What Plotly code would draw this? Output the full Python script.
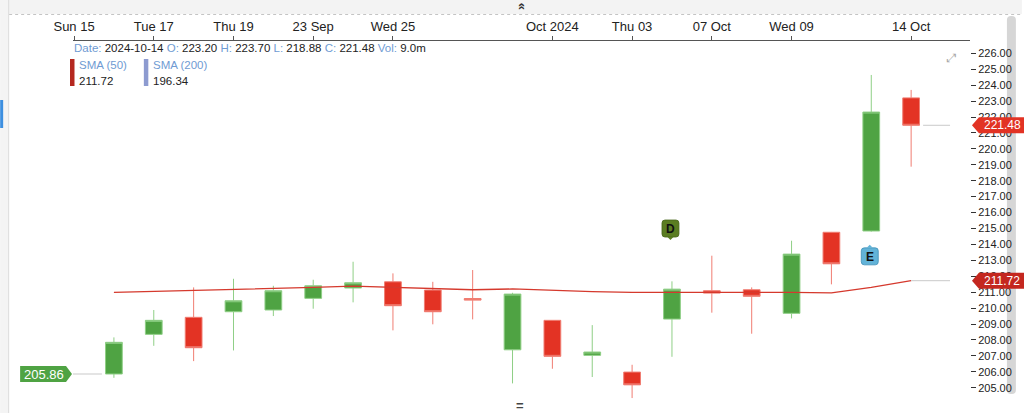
import bisect
import plotly.graph_objects as go

# ---------------- data ----------------
dates = ["2024-09-16", "2024-09-17", "2024-09-18", "2024-09-19", "2024-09-20",
         "2024-09-23", "2024-09-24", "2024-09-25", "2024-09-26", "2024-09-27",
         "2024-09-30", "2024-10-01", "2024-10-02", "2024-10-03", "2024-10-04",
         "2024-10-07", "2024-10-08", "2024-10-09", "2024-10-10", "2024-10-11",
         "2024-10-14"]
opens = [205.86, 208.35, 209.42, 209.77, 209.88, 210.61, 211.26, 211.65, 211.13, 210.60,
         207.38, 209.23, 207.03, 205.98, 209.31, 211.09, 211.15, 209.67, 214.76, 214.84,
         223.20]
highs = [208.16, 209.88, 211.30, 211.84, 211.40, 211.78, 212.91, 212.18, 211.65, 212.39,
         210.96, 209.25, 208.93, 206.44, 211.68, 213.29, 211.30, 214.23, 214.78, 224.64,
         223.70]
lows = [205.62, 207.63, 206.67, 207.34, 209.50, 209.96, 210.36, 208.60, 208.98, 209.29,
        205.27, 206.19, 205.67, 204.35, 206.94, 209.71, 208.39, 209.35, 211.49, 214.80,
        218.88]
closes = [207.85, 209.23, 207.51, 210.46, 211.09, 211.40, 211.59, 210.15, 209.77, 210.50,
          210.88, 206.97, 207.24, 205.18, 211.19, 210.94, 210.74, 213.39, 212.78, 222.31,
          221.48]
sma50 = [210.99, 211.05, 211.10, 211.15, 211.20, 211.30, 211.38, 211.30, 211.22, 211.15,
         211.20, 211.10, 211.03, 210.99, 211.00, 211.00, 211.00, 210.99, 210.96, 211.30,
         211.72]
sma200_last = 196.34
last_volume = "9.0m"

tick_dates = ["2024-09-15", "2024-09-17", "2024-09-19", "2024-09-23", "2024-09-25",
              "2024-10-01", "2024-10-03", "2024-10-07", "2024-10-09", "2024-10-14"]
tick_labels = ["Sun 15", "Tue 17", "Thu 19", "23 Sep", "Wed 25",
               "Oct 2024", "Thu 03", "07 Oct", "Wed 09", "14 Oct"]

event_dates = ["2024-10-04", "2024-10-11"]
event_labels = ["D", "E"]

y_ticks = list(range(205, 227))

# ---------------- geometry helpers ----------------
W, H = 1024, 413
L, R, T, B = 73, 972, 41, 400


def slot(d):
    i = bisect.bisect_left(dates, d)
    return i if (i < len(dates) and dates[i] == d) else i - 1


def px(p):
    return (p - L) / (R - L)


def py(p):
    return (B - p) / (B - T)


xpos = list(range(len(dates)))
tick_pos = [slot(d) for d in tick_dates]

k = (387.7 - 53.3) / 21.0
y_max = 226 + (53.3 - T) / k
y_min = 205 - (B - 387.7) / k
x_min = -1 - (114 - 39.95 - L) / 39.95
x_max = 20 + (R - 913) / 39.95

fig = go.Figure()

fig.add_trace(go.Candlestick(
    x=xpos, open=opens, high=highs, low=lows, close=closes,
    increasing=dict(fillcolor="#4fa343", line=dict(color="#8fcf86", width=1)),
    decreasing=dict(fillcolor="#e33324", line=dict(color="#f07d72", width=1)),
    whiskerwidth=0, showlegend=False, hoverinfo="skip",
))

fig.add_trace(go.Scatter(
    x=xpos, y=sma50, mode="lines",
    line=dict(color="#d5392d", width=1.3),
    showlegend=False, hoverinfo="skip",
))

shapes = []
annotations = []

# gray price lines
last = len(dates) - 1
shapes.append(dict(type="line", xref="x", yref="y", x0=last + 0.3, x1=last + (952 - 913) / 39.95,
                   y0=closes[-1], y1=closes[-1], line=dict(color="#c9c9c9", width=1)))
shapes.append(dict(type="line", xref="x", yref="y", x0=last, x1=last + (952 - 913) / 39.95,
                   y0=sma50[-1], y1=sma50[-1], line=dict(color="#c9c9c9", width=1)))
shapes.append(dict(type="line", xref="x", yref="y", x0=x_min, x1=-0.3,
                   y0=opens[0], y1=opens[0], line=dict(color="#c9c9c9", width=1), layer="below"))


def v2p(v):
    return 53.3 + (226 - v) * k


# right-side tags
def right_tag(v, color):
    yc = v2p(v)
    path = (f"M {px(974)},{py(yc)} L {px(981)},{py(yc - 8)} L {px(1030)},{py(yc - 8)} "
            f"L {px(1030)},{py(yc + 8)} L {px(981)},{py(yc + 8)} Z")
    shapes.append(dict(type="path", xref="paper", yref="paper", path=path,
                       fillcolor=color, line=dict(width=0), layer="above"))
    annotations.append(dict(xref="paper", yref="paper", x=px(984), y=py(yc),
                            xanchor="left", yanchor="middle", showarrow=False,
                            text=f"{v:.2f}", font=dict(size=12, color="white")))


right_tag(closes[-1], "#e23324")
right_tag(sma50[-1], "#c4271f")

# left start tag
yc = v2p(opens[0])
path = (f"M {px(20)},{py(yc - 8)} L {px(66)},{py(yc - 8)} L {px(72)},{py(yc)} "
        f"L {px(66)},{py(yc + 8)} L {px(20)},{py(yc + 8)} Z")
shapes.append(dict(type="path", xref="paper", yref="paper", path=path,
                   fillcolor="#4fa343", line=dict(width=0), layer="above"))
annotations.append(dict(xref="paper", yref="paper", x=px(44), y=py(yc),
                        xanchor="center", yanchor="middle", showarrow=False,
                        text=f"{opens[0]:.2f}", font=dict(size=13, color="white")))


# event markers (rounded boxes)
def rbox(cx, cy, w, h, r):
    x0, x1 = cx - w / 2, cx + w / 2
    y0, y1 = cy - h / 2, cy + h / 2
    return (f"M {px(x0 + r)},{py(y0)} L {px(x1 - r)},{py(y0)} Q {px(x1)},{py(y0)} {px(x1)},{py(y0 + r)} "
            f"L {px(x1)},{py(y1 - r)} Q {px(x1)},{py(y1)} {px(x1 - r)},{py(y1)} "
            f"L {px(x0 + r)},{py(y1)} Q {px(x0)},{py(y1)} {px(x0)},{py(y1 - r)} "
            f"L {px(x0)},{py(y0 + r)} Q {px(x0)},{py(y0)} {px(x0 + r)},{py(y0)} Z")


ev_styles = {"D": ("#5b7d22", "#48661a", -52.8, "down"),
             "E": ("#62b3d8", "#3f8fb8", 24.7, "up")}
for d, lab in zip(event_dates, event_labels):
    i = slot(d)
    cx = 114 + 39.95 * i - 1.5
    fill, edge, off, ptr = ev_styles[lab]
    base = v2p(highs[i]) if lab == "D" else v2p(lows[i])
    cy = base + off
    shapes.append(dict(type="path", xref="paper", yref="paper", path=rbox(cx, cy, 17, 17, 3),
                       fillcolor=fill, line=dict(color=edge, width=0.8), layer="above"))
    if ptr == "down":
        tri = f"M {px(cx - 3)},{py(cy + 8.5)} L {px(cx + 3)},{py(cy + 8.5)} L {px(cx)},{py(cy + 11.5)} Z"
    else:
        tri = f"M {px(cx - 3)},{py(cy - 8.5)} L {px(cx + 3)},{py(cy - 8.5)} L {px(cx)},{py(cy - 11.5)} Z"
    shapes.append(dict(type="path", xref="paper", yref="paper", path=tri,
                       fillcolor=fill, line=dict(width=0), layer="above"))
    annotations.append(dict(xref="paper", yref="paper", x=px(cx), y=py(cy + 0.5),
                            xanchor="center", yanchor="middle", showarrow=False,
                            text=f"<b>{lab}</b>", font=dict(size=12, color="#111")))

# info line
lab_c = "#6f9bd3"
info = (f"<span style='color:{lab_c}'>Date:</span> {dates[-1]} "
        f"<span style='color:{lab_c}'>O:</span> {opens[-1]:.2f} "
        f"<span style='color:{lab_c}'>H:</span> {highs[-1]:.2f} "
        f"<span style='color:{lab_c}'>L:</span> {lows[-1]:.2f} "
        f"<span style='color:{lab_c}'>C:</span> {closes[-1]:.2f} "
        f"<span style='color:{lab_c}'>Vol:</span> {last_volume}")
annotations.append(dict(xref="paper", yref="paper", x=px(72), y=py(47.7), xanchor="left",
                        yanchor="middle", showarrow=False, text=info,
                        font=dict(size=11.5, color="#222")))

# SMA legend
for bx, col, name, val in [(70, "#b5281f", "SMA (50)", sma50[-1]),
                           (144, "#8d9bd0", "SMA (200)", sma200_last)]:
    shapes.append(dict(type="rect", xref="paper", yref="paper", x0=px(bx), x1=px(bx + 4.5),
                       y0=py(59), y1=py(86), fillcolor=col, line=dict(width=0)))
    annotations.append(dict(xref="paper", yref="paper", x=px(bx + 7.5), y=py(65),
                            xanchor="left", yanchor="middle", showarrow=False,
                            text=name, font=dict(size=11.5, color=lab_c)))
    annotations.append(dict(xref="paper", yref="paper", x=px(bx + 7.5), y=py(80.5),
                            xanchor="left", yanchor="middle", showarrow=False,
                            text=f"{val:.2f}", font=dict(size=11.5, color="#222")))

# UI chrome: top band, dotted line, left panel, scrollbar
shapes.append(dict(type="rect", xref="paper", yref="paper", x0=px(0), x1=px(W), y0=py(0), y1=py(14),
                   fillcolor="#f3f3f3", line=dict(width=0), layer="below"))
shapes.append(dict(type="line", xref="paper", yref="paper", x0=px(9), x1=px(W), y0=py(14.5), y1=py(14.5),
                   line=dict(color="#c4c4c4", width=1, dash="dot"), layer="below"))
shapes.append(dict(type="rect", xref="paper", yref="paper", x0=px(0), x1=px(8.5), y0=py(0), y1=py(H),
                   fillcolor="#f4f4f4", line=dict(width=0), layer="below"))
shapes.append(dict(type="line", xref="paper", yref="paper", x0=px(8.5), x1=px(8.5), y0=py(0), y1=py(H),
                   line=dict(color="#dcdcdc", width=1), layer="below"))
shapes.append(dict(type="rect", xref="paper", yref="paper", x0=px(0), x1=px(3), y0=py(100), y1=py(128),
                   fillcolor="#3d8fe0", line=dict(width=0), layer="below"))
shapes.append(dict(type="path", xref="paper", yref="paper", path=rbox(1013.5, 205, 9, 378, 4),
                   fillcolor="#d6d6d6", line=dict(width=0), layer="below"))

# chevron, handle, expand icon
annotations.append(dict(xref="paper", yref="paper", x=px(521), y=py(7), xanchor="center",
                        yanchor="middle", showarrow=False, text="<b>»</b>", textangle=-90,
                        font=dict(size=13, color="#333")))
annotations.append(dict(xref="paper", yref="paper", x=px(521), y=py(405), xanchor="center",
                        yanchor="middle", showarrow=False, text="<b>=</b>",
                        font=dict(size=13, color="#444")))
annotations.append(dict(xref="paper", yref="paper", x=px(953), y=py(58), xanchor="center",
                        yanchor="middle", showarrow=False, text="⤢",
                        font=dict(size=12, color="#a8a8a8", family="DejaVu Sans")))

fig.update_layout(
    width=W, height=H,
    margin=dict(l=L, r=W - R, t=T, b=H - B, pad=0),
    paper_bgcolor="white", plot_bgcolor="white",
    font=dict(family="Liberation Sans, Arial, sans-serif", size=12, color="#222"),
    boxgap=0.4,
    showlegend=False,
    xaxis=dict(
        range=[x_min, x_max], side="top", tickmode="array",
        tickvals=tick_pos, ticktext=tick_labels,
        showline=True, linecolor="#555", linewidth=1,
        ticks="outside", ticklen=4, tickcolor="#555",
        showgrid=False, zeroline=False, rangeslider=dict(visible=False),
        tickfont=dict(size=13, color="#222"), fixedrange=True,
    ),
    yaxis=dict(
        range=[y_min, y_max], side="right", tickmode="array",
        tickvals=y_ticks, ticktext=[f"{v:.2f}" for v in y_ticks],
        showline=False, ticks="outside", ticklen=5, tickcolor="#333",
        showgrid=False, zeroline=False,
        tickfont=dict(size=11, color="#222"), fixedrange=True,
    ),
    shapes=shapes, annotations=annotations,
)

fig.write_html(
    "out.html",
    config={"displayModeBar": False},
    post_script="document.body.style.margin='0';document.body.style.overflow='hidden';",
)
